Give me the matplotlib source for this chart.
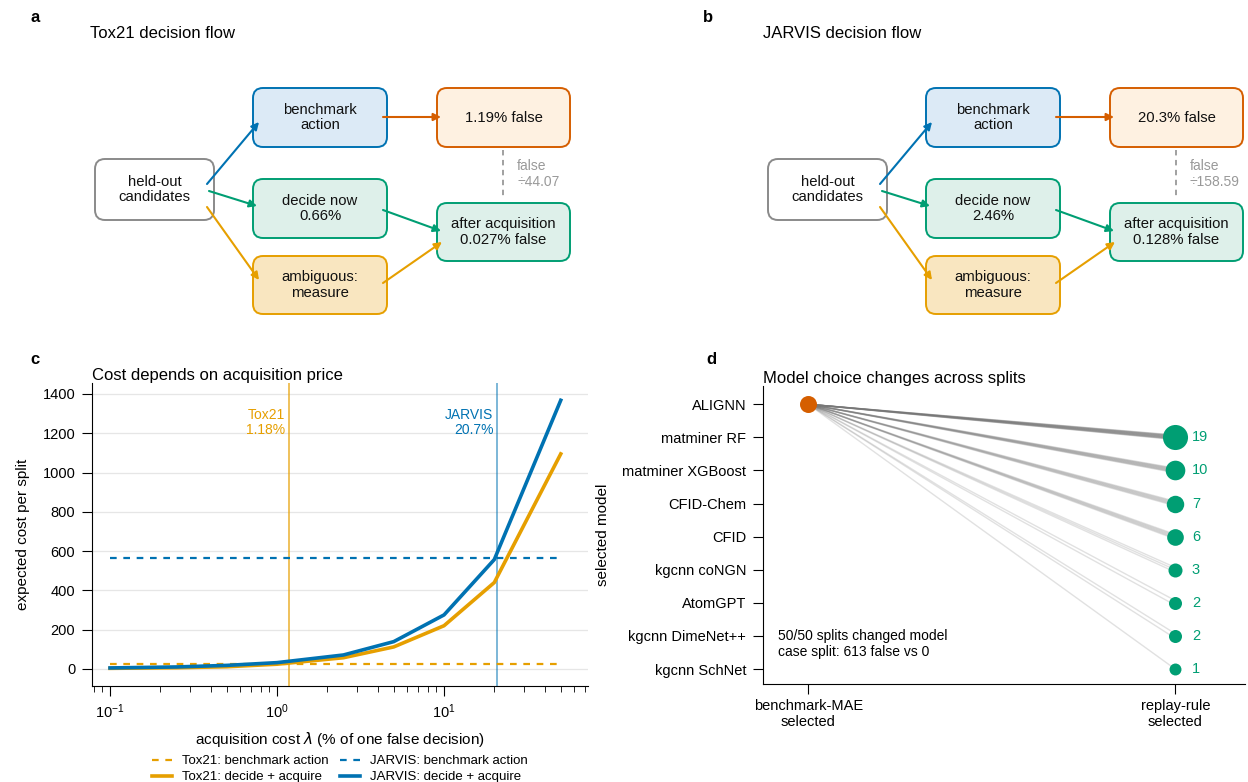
import numpy as np
import matplotlib
matplotlib.use("Agg")
import matplotlib.pyplot as plt
from matplotlib.patches import FancyBboxPatch, FancyArrowPatch

plt.rcParams['font.family'] = ['Liberation Sans', 'DejaVu Sans']
plt.rcParams['font.size'] = 10

# ---------------- data ----------------
flow_titles = ["Tox21 decision flow", "JARVIS decision flow"]
flow_letters = ["a", "b"]
decide_now_pct = ["0.66%", "2.46%"]
benchmark_false_pct = ["1.19%", "20.3%"]
after_acq_false_pct = ["0.027%", "0.128%"]
false_ratio = ["44.07", "158.59"]

lam = [0.1, 0.25, 0.5, 1, 2.5, 5, 10, 20, 50]
tox_decide_acquire = [3, 6, 11, 24, 57, 112, 220, 440, 1095]
jarvis_decide_acquire = [5, 10, 18, 32, 71, 139, 275, 557, 1368]
tox_benchmark = 27
jarvis_benchmark = 565
tox_breakeven = 1.18
jarvis_breakeven = 20.7

models = ["ALIGNN", "matminer RF", "matminer XGBoost", "CFID-Chem", "CFID",
          "kgcnn coNGN", "AtomGPT", "kgcnn DimeNet++", "kgcnn SchNet"]
replay_counts = [0, 19, 10, 7, 6, 3, 2, 2, 1]
benchmark_model_index = 0
n_splits = 50
case_false_benchmark = 613
case_false_replay = 0

# colours
BLUE = "#0072B2"
ORANGE = "#D55E00"
GREEN = "#009E73"
YELLOW = "#E69F00"

W, H = 1248, 782
fig = plt.figure(figsize=(W / 100, H / 100), dpi=100)


def fx(px):
    return px / W


def fy(py):
    return 1 - py / H


# ---------------- panels a & b (flow diagrams) ----------------
box_specs = [
    # key, x0, y0, x1, y1, edge, face
    ("held", 95, 159, 214, 220, "#8a8a8a", "#ffffff"),
    ("bench", 253, 88, 387, 147, BLUE, "#DCEAF6"),
    ("false", 437, 88, 570, 147, ORANGE, "#FEF1E1"),
    ("decide", 253, 179, 387, 238, GREEN, "#DEF0EA"),
    ("after", 437, 203, 570, 261, GREEN, "#DEF0EA"),
    ("ambig", 253, 256, 387, 314, YELLOW, "#F9E6C0"),
]
arrow_specs = [
    ((207, 184), (259, 122), BLUE),
    ((209, 191), (257, 206), GREEN),
    ((207, 207), (259, 280), YELLOW),
    ((383, 117), (441, 117), ORANGE),
    ((383, 210), (441, 231), GREEN),
    ((383, 283), (442, 242), YELLOW),
]

for i in range(2):
    off = 673 * i
    ax = fig.add_axes([fx(80 + off), fy(330), fx(520), 280 / H])
    ax.set_xlim(80, 600)
    ax.set_ylim(330, 50)
    ax.axis("off")
    texts = {
        "held": "held-out\ncandidates",
        "bench": "benchmark\naction",
        "false": f"{benchmark_false_pct[i]} false",
        "decide": f"decide now\n{decide_now_pct[i]}",
        "after": f"after acquisition\n{after_acq_false_pct[i]} false",
        "ambig": "ambiguous:\nmeasure",
    }
    for key, x0, y0, x1, y1, ec, fc in box_specs:
        p = FancyBboxPatch((x0, y0), x1 - x0, y1 - y0,
                           boxstyle="round,pad=0,rounding_size=10",
                           ec=ec, fc=fc, lw=1.4, zorder=2)
        ax.add_patch(p)
        ax.text((x0 + x1) / 2, (y0 + y1) / 2, texts[key], ha="center",
                va="center", fontsize=10.7, color="#111111", zorder=3,
                linespacing=1.15)
    for (p0, p1, c) in arrow_specs:
        a = FancyArrowPatch(p0, p1, arrowstyle="-|>", mutation_scale=11,
                            color=c, lw=1.5, zorder=4, shrinkA=0, shrinkB=0)
        ax.add_patch(a)
    ax.plot([503, 503], [150, 199], ls=(0, (3, 2.5)), color="#999999", lw=1.3)
    ax.text(517, 174, f"false\n\u00f7{false_ratio[i]}", ha="left", va="center",
            fontsize=10, color="#999999", linespacing=1.15)
    fig.text(fx(90 + off), fy(33), flow_titles[i], ha="left", va="center",
             fontsize=12)
    fig.text(fx(35 + off), fy(17), flow_letters[i], ha="center", va="center",
             fontsize=12, fontweight="bold")

# ---------------- panel c ----------------
axc = fig.add_axes([fx(92), fy(686), fx(496), 303 / H])
axc.set_xscale("log")
axc.grid(axis="y", color="#e6e6e6", lw=0.9, zorder=0)
axc.set_axisbelow(True)
axc.plot(lam, [tox_benchmark] * len(lam), ls=(0, (3, 3)), color=YELLOW, lw=1.6,
         label="Tox21: benchmark action", zorder=2)
axc.plot(lam, tox_decide_acquire, color=YELLOW, lw=2.6,
         label="Tox21: decide + acquire", zorder=3)
axc.plot(lam, [jarvis_benchmark] * len(lam), ls=(0, (3, 3)), color=BLUE, lw=1.6,
         label="JARVIS: benchmark action", zorder=2)
axc.plot(lam, jarvis_decide_acquire, color=BLUE, lw=2.6,
         label="JARVIS: decide + acquire", zorder=3)
axc.axvline(tox_breakeven, color=YELLOW, lw=1.2, alpha=0.75, zorder=1)
axc.axvline(jarvis_breakeven, color=BLUE, lw=1.2, alpha=0.6, zorder=1)
axc.text(tox_breakeven / 1.05, 1330, f"Tox21\n{tox_breakeven:.2f}%", ha="right",
         va="top", color=YELLOW, fontsize=10, linespacing=1.1)
axc.text(jarvis_breakeven / 1.05, 1330, f"JARVIS\n{jarvis_breakeven:.1f}%",
         ha="right", va="top", color=BLUE, fontsize=10, linespacing=1.1)
axc.set_xlim(0.078, 72.8)
axc.set_ylim(-87, 1456)
axc.set_yticks([0, 200, 400, 600, 800, 1000, 1200, 1400])
axc.spines[["top", "right"]].set_visible(False)
axc.tick_params(labelsize=10.5, length=7, pad=5)
axc.tick_params(which="minor", length=4.5)
axc.set_ylabel("expected cost per split", fontsize=11)
axc.yaxis.set_label_coords(-0.125, 0.5)
axc.set_xlabel(r"acquisition cost $\lambda$ (% of one false decision)",
               fontsize=11, labelpad=6)
axc.set_title("Cost depends on acquisition price", loc="left", fontsize=12,
              pad=1)
h, l = axc.get_legend_handles_labels()
axc.legend(h, l, ncol=2, loc="upper center", bbox_to_anchor=(0.5, -0.21),
           frameon=False, fontsize=9.5, handlelength=1.5, columnspacing=0.9,
           borderaxespad=0, handletextpad=0.75, labelspacing=0.3)
fig.text(fx(35), fy(360), "c", ha="center", va="center", fontsize=12,
         fontweight="bold")

# ---------------- panel d ----------------
axd = fig.add_axes([fx(763), fy(684), fx(482), 298 / H])
for k, n in enumerate(replay_counts):
    if n == 0:
        continue
    ends = k + np.linspace(-0.07, 0.07, n) if n > 1 else [k]
    for e in ends:
        axd.plot([0, 1], [benchmark_model_index, e], color="#777777",
                 alpha=0.22, lw=1.0, zorder=1)
for k, n in enumerate(replay_counts):
    if n == 0:
        continue
    axd.scatter([1], [k], s=60 + 14 * n, color=GREEN, zorder=3, lw=0)
    axd.text(1.045, k, str(n), ha="left", va="center", color=GREEN,
             fontsize=10.5)
axd.scatter([0], [benchmark_model_index], s=150, color=ORANGE, zorder=3, lw=0)
axd.text(-0.082, 7.25,
         f"{n_splits}/{n_splits} splits changed model\n"
         f"case split: {case_false_benchmark} false vs {case_false_replay}",
         ha="left", va="center", fontsize=10, linespacing=1.15)
axd.set_yticks(range(len(models)))
axd.set_yticklabels(models)
axd.set_xticks([0, 1])
axd.set_xticklabels(["benchmark-MAE\nselected", "replay-rule\nselected"])
axd.set_xlim(-0.123, 1.19)
axd.set_ylim(8.45, -0.55)
axd.spines[["top", "right"]].set_visible(False)
axd.tick_params(labelsize=10.5, length=7, pad=5)
axd.tick_params(axis="x", pad=4)
axd.set_ylabel("selected model", fontsize=11)
axd.yaxis.set_label_coords(-0.318, 0.5)
axd.set_title("Model choice changes across splits", loc="left", fontsize=12,
              pad=1)
fig.text(fx(711), fy(360), "d", ha="center", va="center", fontsize=12,
         fontweight="bold")

fig.savefig("out.png", dpi=100)
